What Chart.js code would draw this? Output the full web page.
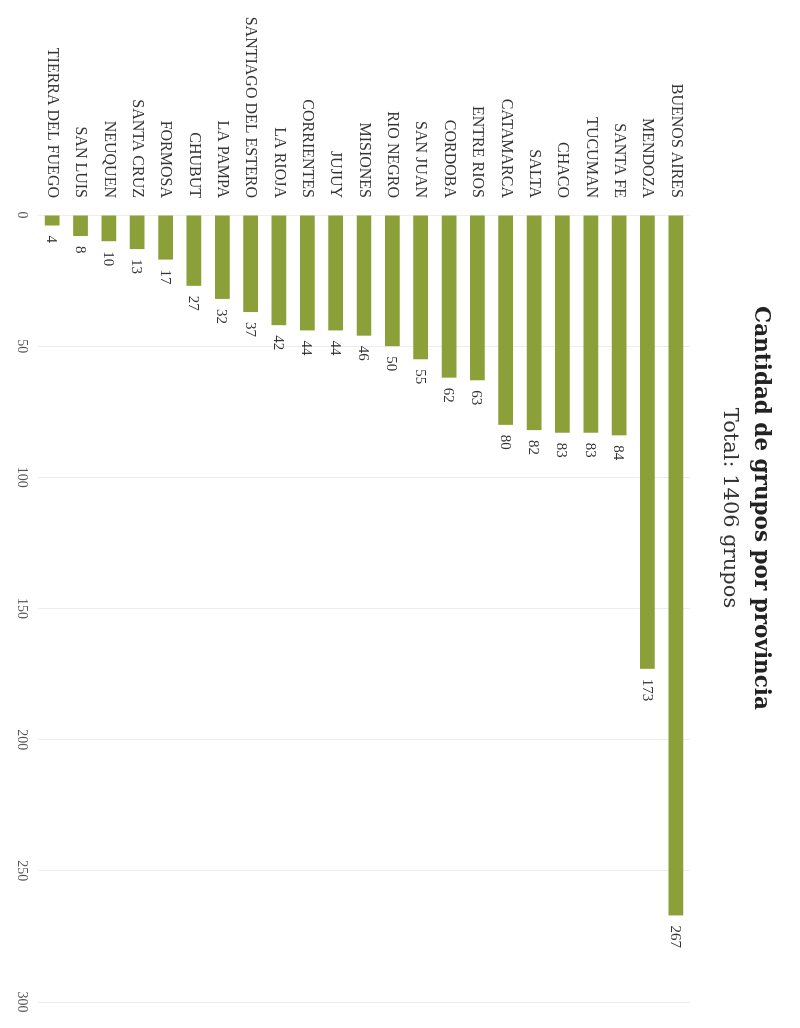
<!DOCTYPE html>
<html>
<head>
<meta charset="utf-8">
<script src="https://cdn.jsdelivr.net/npm/chart.js@4.4.0/dist/chart.umd.min.js"></script>
<style>
  html, body { margin:0; padding:0; background:#fff; overflow:hidden; }
  #wrap { position:absolute; left:0; top:0; width:1028px; height:800px;
          transform-origin:0 0; transform:translate(800px,0) rotate(90deg); }
</style>
</head>
<body>
<div id="wrap"><canvas id="myChart" width="1028" height="800"></canvas></div>
<script>
// provincias y cantidad de grupos
var provincias = ["BUENOS AIRES","MENDOZA","SANTA FE","TUCUMAN","CHACO","SALTA","CATAMARCA",
  "ENTRE RIOS","CORDOBA","SAN JUAN","RIO NEGRO","MISIONES","JUJUY","CORRIENTES","LA RIOJA",
  "SANTIAGO DEL ESTERO","LA PAMPA","CHUBUT","FORMOSA","SANTA CRUZ","NEUQUEN","SAN LUIS","TIERRA DEL FUEGO"]
var grupos = [267,173,84,83,83,82,80,63,62,55,50,46,44,44,42,37,32,27,17,13,10,8,4]
var ticks = [0,50,100,150,200,250,300]

var titulo = "Cantidad de grupos por provincia"
var subtitulo = "Total: 1406 grupos"

// numeros al final de cada barra
var valueLabels = {
  id:'valueLabels',
  afterDatasetsDraw:function(chart){
    var ctx = chart.ctx
    var meta = chart.getDatasetMeta(0)
    ctx.save()
    ctx.font = "15px 'Liberation Serif'"
    ctx.fillStyle = "#333"
    ctx.textAlign = "left"
    ctx.textBaseline = "middle"
    meta.data.forEach(function(bar, i){
      ctx.fillText(grupos[i], bar.x + 10, bar.y + 1)
    })
    ctx.restore()
  }
}

var myChart = document.getElementById("myChart").getContext('2d')

var chart = new Chart(myChart,{
  type:'bar',
  data:{
    labels:provincias,
    datasets:[{
      label:"Grupos",
      data:grupos,
      backgroundColor:"#8ca03a",
      barPercentage:0.52,
      categoryPercentage:1
    }]
  },
  plugins:[valueLabels],
  options:{
    indexAxis:'y',
    responsive:false,
    animation:false,
    layout:{padding:{left:14,right:26,top:0,bottom:0}},
    plugins:{
      legend:{display:false},
      tooltip:{enabled:false},
      title:{
        display:true,
        text:titulo,
        color:"#222",
        font:{family:"'DejaVu Serif'",size:21.5,weight:'bold'},
        padding:{top:27,bottom:0}
      },
      subtitle:{
        display:true,
        text:subtitulo,
        color:"#333",
        font:{family:"'DejaVu Serif'",size:21,weight:'normal'},
        padding:{top:5,bottom:27}
      }
    },
    scales:{
      x:{
        min:ticks[0],
        max:ticks[ticks.length-1],
        afterBuildTicks:function(scale){
          scale.ticks = ticks.map(function(v){ return {value:v} })
        },
        afterFit:function(scale){ scale.height = 38 },
        grid:{color:"rgba(0,0,0,0.07)",drawTicks:false},
        border:{display:false},
        ticks:{
          color:"#555",
          padding:8,
          font:{family:"'Liberation Serif'",size:14}
        }
      },
      y:{
        afterFit:function(scale){ scale.width = 201 },
        grid:{display:false,drawTicks:false},
        border:{display:false},
        ticks:{
          color:"#333",
          padding:17,
          font:{family:"'Liberation Serif'",size:16}
        }
      }
    }
  }
})
</script>
</body>
</html>
